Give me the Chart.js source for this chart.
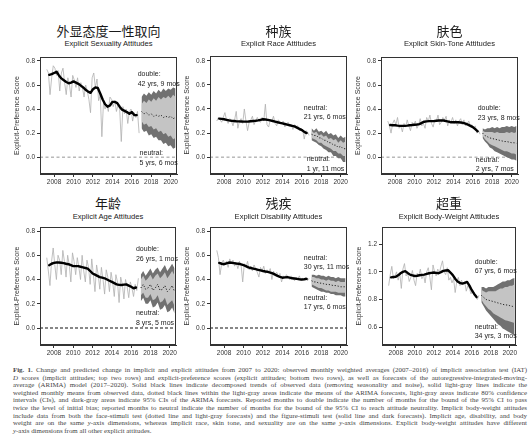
<!DOCTYPE html>
<html>
<head>
<meta charset="utf-8">
<script src="https://cdn.jsdelivr.net/npm/chart.js@4.4.1/dist/chart.umd.min.js"></script>
<style>
  html, body { margin: 0; padding: 0; background: #fff; }
  body { width: 532px; height: 444px; position: relative; overflow: hidden; }
  canvas { position: absolute; }
  .zh { position: absolute; font-family: "Noto Sans CJK SC", sans-serif; font-size: 13px; line-height: 1; color: #1a1a1a; transform: translateX(-50%); white-space: nowrap; }
  .en { position: absolute; font-family: "Liberation Sans Narrow", "Arial Narrow", "Liberation Sans", sans-serif; font-size: 7.6px; line-height: 1; color: #222; transform: translateX(-50%); white-space: nowrap; }
  .caption { position: absolute; left: 13px; top: 366px; width: 514px; font-family: "Liberation Serif", serif; font-size: 6.9px; line-height: 7.6px; color: #444; }
  .caption div { text-align: justify; text-align-last: justify; white-space: nowrap; }
  .caption div.last { text-align-last: left; }
</style>
</head>
<body>
<div class="caption" id="caption"></div>
<script>
// time grids (monthly means sampled every two months, trend quarterly, forecast quarterly)
const monthlyYears = Array.from({length: 58}, (_, i) => 2007.25 + i / 6);
const trendYears = Array.from({length: 37}, (_, i) => 2007.5 + i / 4);
const forecastYears = Array.from({length: 15}, (_, i) => 2017 + i / 4);

const yearTicks = [2008, 2010, 2012, 2014, 2016, 2018, 2020];
const scoreTicks = [0.0, 0.2, 0.4, 0.6, 0.8];
const weightTicks = [0.6, 0.8, 1.0, 1.2];

const titlesZh = ['外显态度一性取向', '种族', '肤色', '年龄', '残疾', '超重'];
const titlesEn = ['Explicit Sexuality Attitudes', 'Explicit Race Attitudes', 'Explicit Skin-Tone Attitudes',
                  'Explicit Age Attitudes', 'Explicit Disability Attitudes', 'Explicit Body-Weight Attitudes'];

// sexuality
const sexMonthly = [0.73,0.70,0.52,0.66,0.76,0.74,0.68,0.72,0.55,0.70,
                    0.74,0.62,0.52,0.66,0.60,0.50,0.68,0.64,0.58,0.66,
                    0.55,0.62,0.58,0.50,0.60,0.55,0.48,0.37,0.66,0.70,
                    0.58,0.65,0.47,0.52,0.17,0.45,0.40,0.44,0.38,0.50,
                    0.48,0.42,0.47,0.38,0.44,0.40,0.13,0.42,0.36,0.40,
                    0.28,0.38,0.40,0.30,0.37,0.33,0.38,0.20];
const sexTrend = [0.685,0.69,0.70,0.71,0.68,0.655,0.64,0.625,0.615,0.62,
                  0.63,0.62,0.61,0.595,0.58,0.56,0.545,0.535,0.565,0.58,
                  0.575,0.53,0.48,0.44,0.42,0.43,0.46,0.46,0.45,0.42,
                  0.395,0.385,0.375,0.36,0.375,0.35,0.35];
const sexHi95 = [0.50,0.53,0.51,0.54,0.52,0.55,0.53,0.56,0.54,0.57,0.55,0.57,0.56,0.58,0.57];
const sexHi80 = [0.44,0.47,0.45,0.48,0.46,0.49,0.47,0.50,0.48,0.50,0.49,0.51,0.49,0.52,0.50];
const sexMean = [0.38,0.36,0.37,0.35,0.36,0.34,0.35,0.34,0.35,0.33,0.34,0.33,0.34,0.32,0.33];
const sexLo80 = [0.30,0.27,0.28,0.25,0.26,0.23,0.24,0.21,0.22,0.19,0.20,0.17,0.18,0.15,0.16];
const sexLo95 = [0.24,0.21,0.22,0.18,0.19,0.16,0.17,0.14,0.14,0.11,0.12,0.09,0.10,0.07,0.08];

// race
const raceMonthly = [0.30,0.33,0.31,0.29,0.33,0.37,0.31,0.28,0.32,0.30,
                     0.26,0.31,0.38,0.24,0.30,0.32,0.28,0.40,0.30,0.22,
                     0.29,0.31,0.34,0.27,0.30,0.33,0.30,0.29,0.33,0.30,
                     0.44,0.27,0.25,0.31,0.30,0.34,0.28,0.26,0.31,0.29,
                     0.28,0.30,0.25,0.27,0.29,0.26,0.27,0.23,0.27,0.25,
                     0.26,0.22,0.24,0.23,0.15,0.22,0.21,0.18];
const raceTrend = [0.32,0.318,0.315,0.31,0.305,0.302,0.30,0.298,0.297,0.296,
                   0.295,0.295,0.296,0.298,0.30,0.302,0.305,0.31,0.315,0.313,
                   0.31,0.305,0.30,0.295,0.29,0.285,0.28,0.275,0.27,0.265,
                   0.26,0.255,0.245,0.235,0.225,0.21,0.20];
const raceHi95 = [0.24,0.22,0.24,0.21,0.22,0.20,0.22,0.19,0.20,0.18,0.19,0.16,0.18,0.16,0.17];
const raceHi80 = [0.22,0.20,0.21,0.18,0.19,0.17,0.18,0.15,0.16,0.14,0.15,0.12,0.14,0.12,0.13];
const raceMean = [0.19,0.18,0.18,0.16,0.16,0.14,0.14,0.12,0.12,0.10,0.10,0.08,0.09,0.07,0.07];
const raceLo80 = [0.16,0.15,0.14,0.12,0.12,0.10,0.09,0.08,0.07,0.05,0.05,0.03,0.03,0.01,0.01];
const raceLo95 = [0.14,0.13,0.12,0.10,0.09,0.07,0.06,0.04,0.04,0.01,0.01,-0.01,-0.01,-0.04,-0.04];

// skin tone
const skinMonthly = [0.30,0.26,0.20,0.28,0.31,0.27,0.33,0.24,0.26,0.21,
                     0.28,0.25,0.31,0.26,0.22,0.29,0.27,0.30,0.24,0.27,
                     0.32,0.26,0.28,0.24,0.33,0.30,0.35,0.28,0.25,0.31,
                     0.30,0.35,0.27,0.29,0.33,0.31,0.34,0.26,0.31,0.29,
                     0.33,0.28,0.31,0.26,0.30,0.32,0.27,0.31,0.26,0.28,
                     0.30,0.26,0.27,0.24,0.26,0.20,0.22,0.19];
const skinTrend = [0.267,0.266,0.265,0.262,0.26,0.26,0.26,0.262,0.265,0.267,
                   0.27,0.272,0.275,0.285,0.295,0.298,0.30,0.30,0.30,0.303,
                   0.305,0.305,0.305,0.30,0.295,0.29,0.29,0.29,0.29,0.288,
                   0.285,0.278,0.27,0.26,0.25,0.233,0.215];
const skinHi95 = [0.24,0.23,0.24,0.24,0.25,0.24,0.25,0.24,0.25,0.25,0.26,0.25,0.26,0.25,0.26];
const skinHi80 = [0.22,0.21,0.21,0.21,0.21,0.20,0.21,0.20,0.20,0.20,0.21,0.20,0.21,0.20,0.21];
const skinMean = [0.20,0.18,0.17,0.16,0.155,0.15,0.145,0.14,0.135,0.13,0.13,0.125,0.12,0.12,0.115];
const skinLo80 = [0.18,0.15,0.13,0.11,0.10,0.09,0.08,0.07,0.06,0.05,0.05,0.04,0.03,0.03,0.02];
const skinLo95 = [0.16,0.13,0.11,0.08,0.07,0.05,0.04,0.03,0.02,0.01,0.00,-0.01,-0.02,-0.02,-0.03];

// age
const ageMonthly = [0.58,0.47,0.35,0.55,0.66,0.52,0.40,0.60,0.56,0.44,
                    0.64,0.55,0.42,0.60,0.52,0.38,0.62,0.55,0.44,0.58,
                    0.50,0.40,0.60,0.47,0.38,0.56,0.50,0.36,0.57,0.44,
                    0.30,0.52,0.44,0.32,0.50,0.40,0.28,0.48,0.42,0.30,
                    0.46,0.38,0.26,0.44,0.38,0.21,0.42,0.36,0.24,0.40,
                    0.34,0.25,0.38,0.33,0.26,0.36,0.31,0.41];
const ageTrend = [0.518,0.53,0.537,0.54,0.54,0.538,0.535,0.53,0.526,0.518,
                  0.51,0.51,0.51,0.505,0.50,0.495,0.49,0.47,0.45,0.44,
                  0.43,0.42,0.415,0.41,0.40,0.39,0.38,0.37,0.36,0.356,
                  0.355,0.358,0.36,0.35,0.34,0.328,0.334];
const ageHi95 = [0.44,0.47,0.43,0.46,0.49,0.45,0.48,0.50,0.46,0.49,0.52,0.47,0.50,0.53,0.49];
const ageHi80 = [0.40,0.43,0.39,0.41,0.44,0.40,0.43,0.45,0.41,0.43,0.46,0.41,0.44,0.47,0.43];
const ageMean = [0.33,0.36,0.32,0.33,0.36,0.31,0.33,0.36,0.31,0.32,0.35,0.30,0.32,0.35,0.30];
const ageLo80 = [0.27,0.29,0.25,0.25,0.28,0.23,0.24,0.27,0.21,0.22,0.25,0.19,0.21,0.23,0.18];
const ageLo95 = [0.22,0.25,0.20,0.20,0.23,0.17,0.18,0.21,0.15,0.16,0.19,0.13,0.14,0.17,0.12];

// disability
const disMonthly = [0.64,0.58,0.44,0.53,0.56,0.52,0.55,0.50,0.57,0.53,
                    0.56,0.51,0.54,0.49,0.55,0.52,0.38,0.53,0.50,0.55,
                    0.48,0.51,0.47,0.52,0.49,0.46,0.42,0.50,0.47,0.51,
                    0.45,0.48,0.46,0.49,0.40,0.47,0.44,0.46,0.43,0.45,
                    0.38,0.43,0.41,0.44,0.42,0.40,0.43,0.41,0.39,0.42,
                    0.40,0.43,0.39,0.41,0.40,0.42,0.39,0.41];
const disTrend = [0.537,0.53,0.526,0.533,0.54,0.538,0.535,0.532,0.53,0.524,
                  0.518,0.51,0.50,0.495,0.49,0.485,0.48,0.475,0.47,0.466,
                  0.463,0.457,0.45,0.44,0.43,0.422,0.415,0.418,0.42,0.415,
                  0.41,0.408,0.405,0.402,0.40,0.402,0.405];
const disHi95 = [0.44,0.44,0.43,0.44,0.43,0.43,0.42,0.43,0.42,0.42,0.41,0.42,0.41,0.41,0.41];
const disHi80 = [0.42,0.42,0.41,0.41,0.40,0.40,0.39,0.40,0.39,0.39,0.38,0.39,0.38,0.38,0.38];
const disMean = [0.39,0.38,0.38,0.37,0.37,0.365,0.36,0.36,0.355,0.35,0.35,0.345,0.34,0.34,0.34];
const disLo80 = [0.36,0.35,0.34,0.33,0.33,0.32,0.31,0.31,0.30,0.30,0.30,0.29,0.29,0.29,0.29];
const disLo95 = [0.34,0.33,0.32,0.31,0.30,0.30,0.29,0.29,0.28,0.28,0.27,0.27,0.27,0.26,0.26];

// body weight
const weightMonthly = [0.90,0.98,1.04,0.95,0.97,1.00,0.94,0.99,0.88,1.02,
                       1.06,0.97,0.99,0.93,0.96,1.01,0.94,0.90,0.99,0.97,
                       1.02,0.95,0.98,0.92,1.00,1.03,0.96,0.87,1.05,1.00,
                       0.97,1.02,0.99,1.04,1.08,1.00,0.98,1.03,0.94,0.96,
                       0.92,0.95,0.85,0.93,0.96,0.90,0.94,0.91,0.93,0.86,
                       0.90,0.88,0.84,0.87,0.84,0.82,0.80,0.83];
const weightTrend = [0.96,0.963,0.964,0.975,0.99,1.0,1.005,0.992,0.98,0.975,
                     0.97,0.972,0.975,0.978,0.98,0.985,0.99,0.993,0.995,0.993,
                     0.99,0.998,1.007,1.01,1.012,0.995,0.976,0.95,0.93,0.92,
                     0.915,0.92,0.927,0.90,0.867,0.84,0.818];
const weightHi95 = [0.89,0.89,0.88,0.89,0.89,0.89,0.90,0.91,0.92,0.93,0.93,0.94,0.94,0.95,0.955];
const weightHi80 = [0.87,0.86,0.85,0.86,0.86,0.86,0.86,0.87,0.88,0.88,0.89,0.89,0.90,0.90,0.91];
const weightMean = [0.83,0.815,0.80,0.795,0.79,0.785,0.78,0.775,0.77,0.765,0.76,0.76,0.755,0.75,0.75];
const weightLo80 = [0.80,0.77,0.75,0.73,0.72,0.70,0.69,0.68,0.67,0.66,0.65,0.645,0.64,0.635,0.63];
const weightLo95 = [0.78,0.75,0.72,0.70,0.68,0.66,0.64,0.62,0.61,0.59,0.58,0.57,0.56,0.55,0.54];

const captionLines = [
  '<b>Fig. 1.</b> Change and predicted change in implicit and explicit attitudes from 2007 to 2020: observed monthly weighted averages (2007–2016) of implicit association test (IAT)',
  '<i>D</i> scores (implicit attitudes; top two rows) and explicit-preference scores (explicit attitudes; bottom two rows), as well as forecasts of the autoregressive-integrated-moving-',
  'average (ARIMA) model (2017–2020). Solid black lines indicate decomposed trends of observed data (removing seasonality and noise), solid light-gray lines indicate the',
  'weighted monthly means from observed data, dotted black lines within the light-gray areas indicate the means of the ARIMA forecasts, light-gray areas indicate 80% confidence',
  'intervals (CIs), and dark-gray areas indicate 95% CIs of the ARIMA forecasts. Reported months to double indicate the number of months for the bound of the 95% CI to pass',
  'twice the level of initial bias; reported months to neutral indicate the number of months for the bound of the 95% CI to reach attitude neutrality. Implicit body-weight attitudes',
  'include data from both the face-stimuli test (dotted line and light-gray forecasts) and the figure-stimuli test (solid line and dark forecasts). Implicit age, disability, and body',
  'weight are on the same <i>y</i>-axis dimensions, whereas implicit race, skin tone, and sexuality are on the same <i>y</i>-axis dimensions. Explicit body-weight attitudes have different',
  '<i>y</i>-axis dimensions from all other explicit attitudes.'
];

// layout: plot rectangle [left, top, right, bottom] in page pixels
const panels = [
  {rect: [40, 57, 177, 174], yMin: -0.14, yMax: 0.833, ticks: scoreTicks, zero: 'gray',
   monthly: sexMonthly, trend: sexTrend, fc: [sexHi95, sexHi80, sexMean, sexLo80, sexLo95],
   notes: [{x: 2016.6, y: 0.69, lines: ['double:', '42 yrs, 9 mos']}, {x: 2016.8, y: 0.03, lines: ['neutral:', '5 yrs, 6 mos']}]},
  {rect: [210, 56, 347, 174], yMin: -0.14, yMax: 0.84, ticks: scoreTicks, zero: 'gray',
   monthly: raceMonthly, trend: raceTrend, fc: [raceHi95, raceHi80, raceMean, raceLo80, raceLo95],
   notes: [{x: 2016.2, y: 0.41, lines: ['neutral:', '21 yrs, 6 mos']}, {x: 2016.5, y: -0.02, lines: ['neutral:', '1 yr, 11 mos']}]},
  {rect: [381, 57, 518, 174], yMin: -0.14, yMax: 0.833, ticks: scoreTicks, zero: 'gray',
   monthly: skinMonthly, trend: skinTrend, fc: [skinHi95, skinHi80, skinMean, skinLo80, skinLo95],
   notes: [{x: 2016.5, y: 0.405, lines: ['double:', '23 yrs, 8 mos']}, {x: 2016.3, y: -0.02, lines: ['neutral:', '2 yrs, 7 mos']}]},
  {rect: [40, 227, 176, 345], yMin: -0.14, yMax: 0.833, ticks: scoreTicks, zero: 'black',
   monthly: ageMonthly, trend: ageTrend, fc: [ageHi95, ageHi80, ageMean, ageLo80, ageLo95],
   notes: [{x: 2016.5, y: 0.647, lines: ['double:', '26 yrs, 1 mos']}, {x: 2016.5, y: 0.12, lines: ['neutral:', '8 yrs, 5 mos']}]},
  {rect: [210, 227, 347, 345], yMin: -0.14, yMax: 0.833, ticks: scoreTicks, zero: 'black',
   monthly: disMonthly, trend: disTrend, fc: [disHi95, disHi80, disMean, disLo80, disLo95],
   notes: [{x: 2016.2, y: 0.58, lines: ['neutral:', '30 yrs, 11 mos']}, {x: 2016.2, y: 0.25, lines: ['neutral:', '17 yrs, 6 mos']}]},
  {rect: [382, 227, 516, 345], yMin: 0.47, yMax: 1.325, ticks: weightTicks, zero: null,
   monthly: weightMonthly, trend: weightTrend, fc: [weightHi95, weightHi80, weightMean, weightLo80, weightLo95],
   notes: [{x: 2016.3, y: 1.073, lines: ['double:', '67 yrs, 6 mos']}, {x: 2016.3, y: 0.60, lines: ['neutral:', '34 yrs, 3 mos']}]}
];

const X_MIN = 2006.55, X_MAX = 2020.65;
const AXIS_W = 34, AXIS_H = 16, PAD = 6;
const FONT = '"Liberation Sans Narrow", "Arial Narrow", "Liberation Sans", sans-serif';
const INK = '#333';

function zip(xs, ys) { return ys.map((y, i) => ({x: xs[i], y: y})); }

const framePlugin = {
  id: 'frame',
  afterDatasetsDraw(chart) {
    const a = chart.chartArea, ctx = chart.ctx;
    ctx.save();
    ctx.strokeStyle = INK;
    ctx.lineWidth = 1;
    ctx.strokeRect(a.left + 0.5, a.top + 0.5, a.right - a.left - 1, a.bottom - a.top - 1);
    ctx.restore();
  },
  afterDraw(chart, args, opts) {
    const ctx = chart.ctx, xs = chart.scales.x, ys = chart.scales.y;
    ctx.save();
    ctx.fillStyle = '#222';
    ctx.font = '7px ' + FONT;
    ctx.textBaseline = 'middle';
    (opts.notes || []).forEach(n => {
      const px = xs.getPixelForValue(n.x), py = ys.getPixelForValue(n.y);
      n.lines.forEach((t, i) => ctx.fillText(t, px, py + i * 9.5));
    });
    ctx.restore();
  }
};

document.getElementById('caption').innerHTML =
  captionLines.map((t, i) => '<div' + (i === captionLines.length - 1 ? ' class="last"' : '') + '>' + t + '</div>').join('');

panels.forEach((p, k) => {
  const [L, T, R, B] = p.rect;
  const canvas = document.createElement('canvas');
  canvas.width = R - L + AXIS_W + PAD;
  canvas.height = B - T + PAD + AXIS_H;
  canvas.style.left = (L - AXIS_W) + 'px';
  canvas.style.top = (T - PAD) + 'px';
  document.body.appendChild(canvas);

  const cx = (L + R) / 2;
  const zh = document.createElement('div');
  zh.className = 'zh';
  zh.textContent = titlesZh[k];
  zh.style.left = cx + 'px';
  zh.style.top = (k < 3 ? 24 : 196) + 'px';
  document.body.appendChild(zh);
  const en = document.createElement('div');
  en.className = 'en';
  en.textContent = titlesEn[k];
  en.style.left = cx + 'px';
  en.style.top = (k < 3 ? 40 : 213) + 'px';
  document.body.appendChild(en);

  const line = {pointRadius: 0, tension: 0};
  const datasets = [
    Object.assign({data: zip(trendYears, p.trend), borderColor: '#000', borderWidth: 2.4, borderCapStyle: 'round', borderJoinStyle: 'round'}, line),
    Object.assign({data: zip(forecastYears, p.fc[2]), borderColor: '#111', borderWidth: 0.9, borderDash: [1.2, 1.8]}, line),
    Object.assign({data: zip(monthlyYears, p.monthly), borderColor: '#b0b0b0', borderWidth: 0.8}, line),
    Object.assign({data: zip(forecastYears, p.fc[1]), borderWidth: 0, borderColor: 'rgba(0,0,0,0)', fill: '+1', backgroundColor: '#c4c4c4'}, line),
    Object.assign({data: zip(forecastYears, p.fc[3]), borderWidth: 0, borderColor: 'rgba(0,0,0,0)'}, line),
    Object.assign({data: zip(forecastYears, p.fc[0]), borderWidth: 0, borderColor: 'rgba(0,0,0,0)', fill: '+1', backgroundColor: '#717171'}, line),
    Object.assign({data: zip(forecastYears, p.fc[4]), borderWidth: 0, borderColor: 'rgba(0,0,0,0)'}, line)
  ];
  if (p.zero) {
    const black = p.zero === 'black';
    datasets.push(Object.assign({data: [{x: X_MIN, y: 0}, {x: X_MAX, y: 0}],
      borderColor: black ? '#111' : '#8a8a8a', borderWidth: black ? 1.2 : 0.9,
      borderDash: black ? [3, 2] : [3, 2.5]}, line));
  }

  new Chart(canvas, {
    type: 'line',
    data: {datasets: datasets},
    plugins: [framePlugin],
    options: {
      responsive: false,
      animation: false,
      events: [],
      layout: {padding: {top: PAD, right: PAD, left: 0, bottom: 0}},
      plugins: {
        legend: {display: false},
        tooltip: {enabled: false},
        frame: {notes: p.notes}
      },
      scales: {
        x: {
          type: 'linear', min: X_MIN, max: X_MAX,
          afterBuildTicks: s => { s.ticks = yearTicks.map(v => ({value: v})); },
          afterFit: s => { s.height = AXIS_H; },
          grid: {drawOnChartArea: false, drawTicks: true, tickLength: 3, color: INK},
          border: {display: true, color: INK, width: 1},
          ticks: {color: INK, font: {family: FONT, size: 6.5}, padding: 1, maxRotation: 0, autoSkip: false,
                  callback: v => String(v)}
        },
        y: {
          min: p.yMin, max: p.yMax,
          afterBuildTicks: s => { s.ticks = p.ticks.map(v => ({value: v})); },
          afterFit: s => { s.width = AXIS_W; },
          grid: {drawOnChartArea: false, drawTicks: true, tickLength: 3, color: INK},
          border: {display: true, color: INK, width: 1},
          ticks: {color: INK, font: {family: FONT, size: 6.5}, padding: 2, autoSkip: false,
                  callback: v => v.toFixed(1)},
          title: {display: true, text: 'Explicit-Preference Score', color: INK,
                  font: {family: FONT, size: 7}, padding: {top: 7, bottom: 0}}
        }
      }
    }
  });
});
</script>
</body>
</html>
